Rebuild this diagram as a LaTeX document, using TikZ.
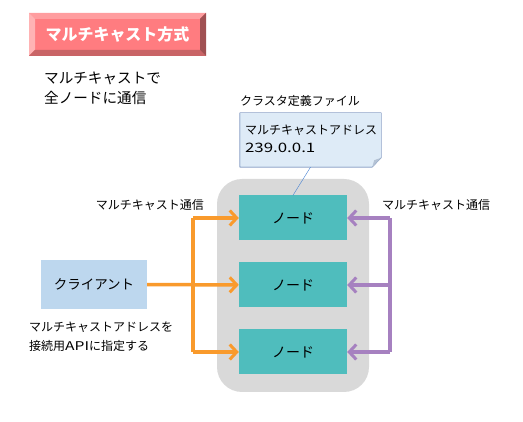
\documentclass[tikz,border=0pt]{standalone}
\usepackage{fontspec}
\setmainfont{Noto Sans CJK JP}
\newfontfamily\widefont[FakeStretch=1.3]{Noto Sans CJK JP}
\usetikzlibrary{positioning,arrows.meta,calc}
\definecolor{tface}{HTML}{FF7C80}
\definecolor{ttop}{HTML}{FF9D9F}
\definecolor{tleft}{HTML}{FFB3B4}
\definecolor{tbot}{HTML}{C96466}
\definecolor{tright}{HTML}{A05052}
\definecolor{note}{HTML}{DEEBF7}
\definecolor{noteline}{HTML}{2F5597}
\definecolor{fold}{HTML}{B4C2D4}
\definecolor{teal}{HTML}{4FBDBD}
\definecolor{client}{HTML}{BDD7EE}
\definecolor{orng}{HTML}{F99A2C}
\definecolor{purp}{HTML}{A681C0}
\begin{document}
\begin{tikzpicture}[x=1pt, y=-1pt, node distance={67pt},
  main/.style = {fill=teal, minimum width=108pt, minimum height=45pt, inner sep=0pt, font=\fontsize{14}{16}\selectfont},
  lbl/.style = {inner sep=0pt, font=\fontsize{12}{19}\selectfont, align=left},
  og/.style = {draw=orng, line width=3.5pt},
  pp/.style = {draw=purp, line width=3.5pt},
  tip/.style = {-{Straight Barb[length=7pt, width=15pt, line width=3pt]}}]
\useasboundingbox (0,0) rectangle (523,422);

% title button
\fill[tface] (29,13) rectangle (206,56);
\fill[ttop] (29,13) -- (206,13) -- (200,19) -- (35,19) -- cycle;
\fill[tleft] (29,13) -- (35,19) -- (35,50) -- (29,56) -- cycle;
\fill[tbot] (29,56) -- (35,50) -- (200,50) -- (206,56) -- cycle;
\fill[tright] (206,13) -- (200,19) -- (200,50) -- (206,56) -- cycle;
\node (t) at (117.5,34.5) [inner sep=0pt, text=white, font=\fontsize{16}{18}\selectfont\bfseries] {マルチキャスト方式};

\node (s) [lbl, anchor=north west, font=\fontsize{14.6}{20}\selectfont] at (44,72) {マルチキャストで\\全ノードに通信};

% cluster
\node (g) at (293,285.5) [fill=black!15, rounded corners=25pt, minimum width=152pt, minimum height=213pt] {};
\node[main] (1) at (293,218) {ノード};
\node[main] (2) [below of=1] {ノード};
\node[main] (3) [below of=2] {ノード};

% definition file
\node (f) [lbl, anchor=south west] at (240,107) {クラスタ定義ファイル};
\node (5) at (310.5,140) [minimum width=141pt, minimum height=54pt, inner sep=0pt] {};
\draw[noteline, fill=note] (5.north west) -- (5.north east) -- ($(5.north east)+(0,45)$) -- ($(5.south east)+(-9,0)$) -- (5.south west) -- cycle;
\fill[fold] ($(5.south east)+(-9,0)$) -- ($(5.south east)+(-7,-7)$) -- ($(5.north east)+(0,45)$) -- cycle;
\node[lbl, anchor=north west, font=\fontsize{12}{18}\selectfont] at ($(5.north west)+(5,12)$) {マルチキャストアドレス\\{\widefont\fontsize{13}{18}\selectfont 239.0.0.1}};
\draw[draw={rgb,255:red,68;green,128;blue,210}] (5.south) -- (1.north);

% client
\node (4) at (94,284.5) [fill=client, minimum width=106pt, minimum height=49pt, inner sep=0pt, font=\fontsize{13.5}{16}\selectfont] {クライアント};
\node (a) [lbl, anchor=north west] at (29,322) {マルチキャストアドレスを\\接続用{\widefont API}に指定する};

% orange
\coordinate (o1) at (193,218);
\coordinate (o3) at (193,352);
\draw[og] (o1) -- (o3);
\draw[og, tip] (4) -- (2);
\draw[og, tip] (o1) -- (1);
\draw[og, tip] (o3) -- (3);
\node (l) [lbl, anchor=south east] at (204,211) {マルチキャスト通信};

% purple
\coordinate (p1) at (390,218);
\coordinate (p3) at (390,352);
\draw[pp] (p1) -- (p3);
\draw[pp, tip] (p1) -- (1);
\draw[pp, tip] (390,285) -- (2);
\draw[pp, tip] (p3) -- (3);
\node (r) [lbl, anchor=south west] at (382,211) {マルチキャスト通信};

\end{tikzpicture}
\end{document}
